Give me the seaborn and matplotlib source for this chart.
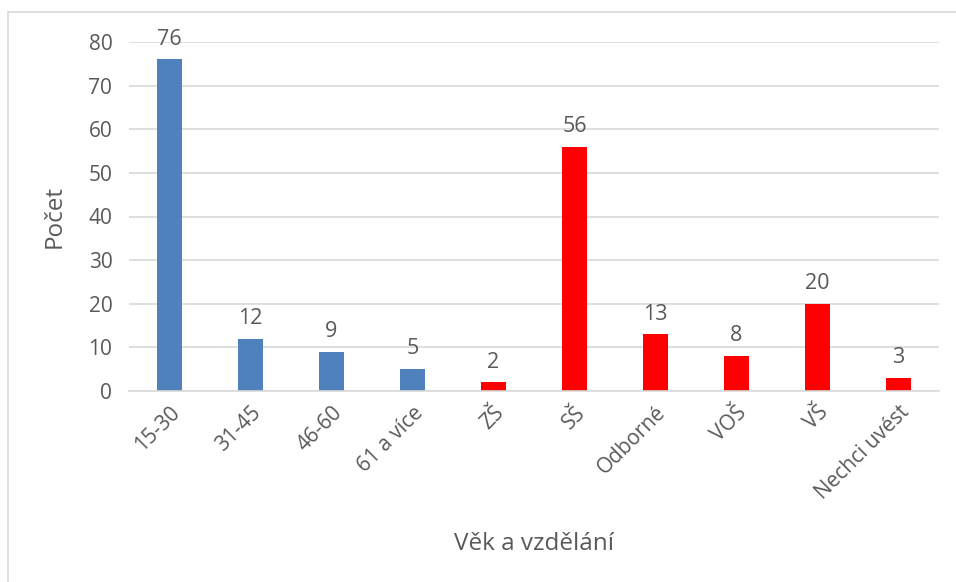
import seaborn as sns
import matplotlib.pyplot as plt
import pandas as pd
from matplotlib.lines import Line2D

categories = ["15-30", "31-45", "46-60", "61 a více", "ZŠ", "SŠ", "Odborné", "VOŠ", "VŠ", "Nechci uvést"]
values = [76, 12, 9, 5, 2, 56, 13, 8, 20, 3]
groups = ["věk"] * 4 + ["vzdělání"] * 6
colors = {"věk": "#4F81BD", "vzdělání": "#FF0000"}

df = pd.DataFrame({"kategorie": categories, "pocet": values, "skupina": groups})

sns.set_style("white")
plt.rcParams["font.family"] = ["Open Sans", "DejaVu Sans"]
text_color = "#595959"

fig = plt.figure(figsize=(9.56, 5.82), dpi=100)
ax = fig.add_axes([129 / 956, 1 - 391 / 582, 810 / 956, 349 / 582])

sns.barplot(data=df, x="kategorie", y="pocet", hue="skupina", palette=colors,
            dodge=False, width=0.31, legend=False, ax=ax, saturation=1, linewidth=0)

for cont in ax.containers:
    ax.bar_label(cont, padding=7, fontsize=15.5, color=text_color, clip_on=False)

ax.set_xlim(-0.5, len(categories) - 0.5)
ax.set_ylim(0, 80)
ax.set_yticks(range(0, 81, 10))
ax.yaxis.grid(True, color="#D9D9D9", linewidth=1.2)
ax.set_axisbelow(True)
for side in ["top", "right", "left"]:
    ax.spines[side].set_visible(False)
ax.spines["bottom"].set_color("#D9D9D9")
ax.spines["bottom"].set_linewidth(1.2)
ax.tick_params(axis="both", length=0, labelsize=15, colors=text_color, pad=12)
ax.tick_params(axis="x", pad=8)
plt.setp(ax.get_xticklabels(), rotation=45, ha="right", rotation_mode="anchor")

ax.set_xlabel("Věk a vzdělání", fontsize=17.5, color=text_color, labelpad=20)
ax.set_ylabel("Počet", fontsize=17.5, color=text_color, labelpad=16)

# chart frame
fig.add_artist(Line2D([8 / 956, 8 / 956], [0, 1 - 12 / 582], color="#D9D9D9", linewidth=1.2, transform=fig.transFigure))
fig.add_artist(Line2D([8 / 956, 1], [1 - 12 / 582, 1 - 12 / 582], color="#D9D9D9", linewidth=1.2, transform=fig.transFigure))

fig.savefig("out.png", dpi=100)
